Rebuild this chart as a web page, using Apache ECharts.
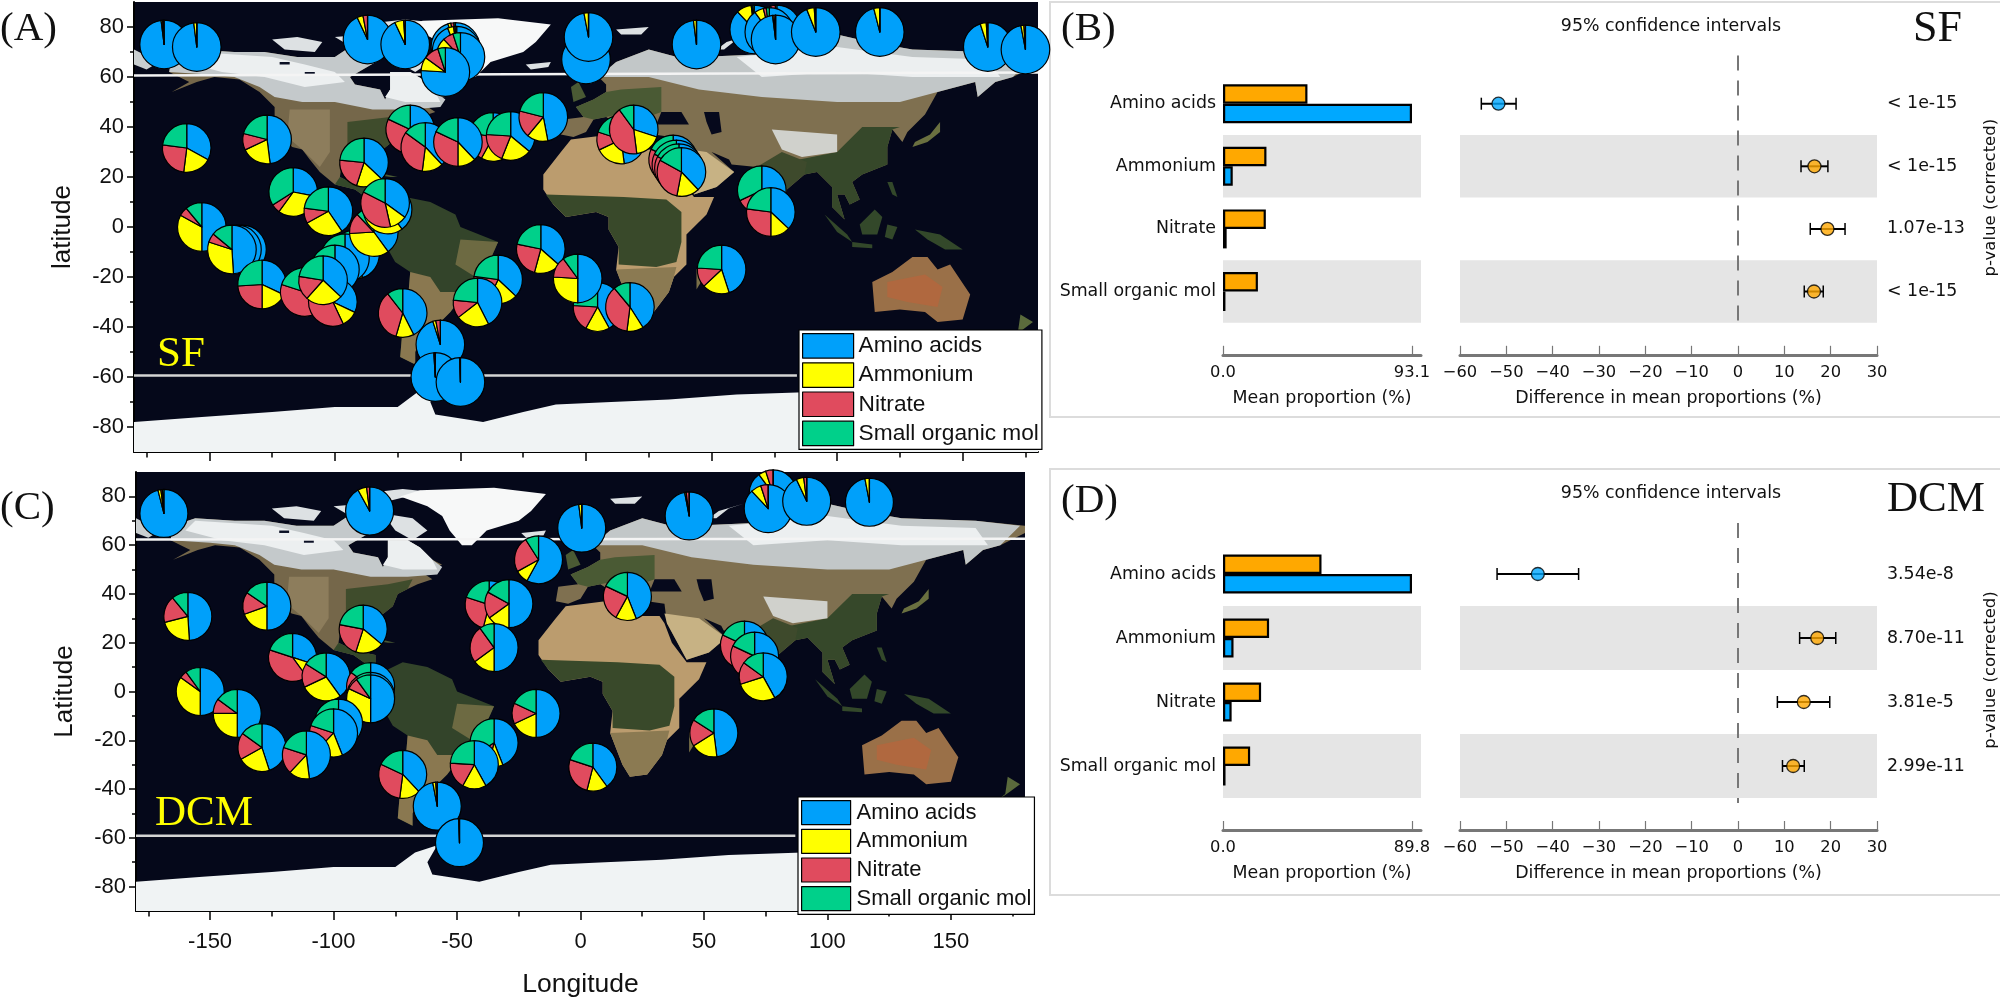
<!DOCTYPE html>
<html><head><meta charset="utf-8">
<script src="https://cdn.jsdelivr.net/npm/echarts@6/dist/echarts.min.js"></script>
<style>html,body{margin:0;padding:0;background:#fff}#c{width:2000px;height:999px}</style></head>
<body><div id="c"></div>
<script>
const nutrientNames = ['Amino acids','Ammonium','Nitrate','Small organic mol'];
const nutrientColors = ['#00a0fa','#ffff00','#e04b5e','#00d08a'];
// lon, lat, amino, ammonium, nitrate, small organic
const sfStations = [
[-168,73,98,1,.5,.5],[-155,72,98,2,0,0],[-87,75,93,4,3,0],[-72,73,93,6,1,0],
[-52,72,95,2,2,1],[-51.5,70.5,94,4,1,1],[-50,68,78,10,7,5],[-56,62,76,9,10,5],
[0,67,99,.5,.5,0],[1,76,97,3,0,0],[44,73,98,2,0,0],[67,79,88,10,1,1],[76,79,88,8,3,1],[73,78,90,6,2,2],[75.5,75,98,1,1,0],[91.5,78,94,5,1,0],[117,78,96,4,0,0],[160,72,95,4,1,0],[175,71,97,2,1,0],
[-159,31.6,33,19,25,23],[-127,35,48,20,11,21],[-70,39,35,10,37,18],[-64,32,38,14,33,15],[-88.4,25.8,37,18,21.5,23.5],[-37,36,38,20,20,22],[-51,34,38,12,32,18],[-30,36.4,36,20,20,24],[-17,44,47,14,18,21],
[14,35,48,20,12,20],[19,39,30,18,42,10],[34.7,27,40,14,28,18],[36,25,40,14,28,18],[37,23.5,38,15,30,17],[38,22,38,15,30,17],[70,14.7,36,10,22,32],[73.6,6,37,13,27,23],
[-116.6,14,28,32,6,34],[-102.6,6.3,40.5,26.5,10,23],[-153,0,50,33,6,11],[-137,-9,49,31,6,14],[-139,-9,49,31,6,14],[-141,-9,49,31,6,14],
[-129,-23,32,18,24,26],[-92,-11,45,20,15,20],[-96,-12.5,45,20,15,20],[-100,-17,45,18,17,20],[-112,-26,28,14,38,20],[-100.8,-30,32,11,40,17],[-104.7,-21.3,37,24.6,16,22.4],
[-84.5,-2,40,34,14,12],[-79,7,40,30,20,10],[-80,9.6,35,11.5,36,17.5],
[-18,-8.8,36.5,17.7,24,21.8],[-35,-21,37,20,20,23],[-43.2,-30.2,42.5,22,12,23.5],[-73,-34.4,42.5,12,35,10.5],[4.6,-32,42,16,18,24],[-3.3,-20.6,50,26,14,10],[17.5,-32,41,11,37,11],[54,-17,45,18,13,24],
[-58,-47,95,2,3,0],[-60,-60,99,.5,.5,0],[-50,-62,99.5,.25,.25,0]];
const dcmStations = [
[-168.7,73,96,2,1,1],[-85.4,74,92,6,2,0],[.5,67,98,2,0,0],[44,72,97,1,2,0],[78,81,90,5,5,0],[76,75,88,7,5,0],[91.6,78,93,5,2,0],[117,77.6,97,3,0,0],
[-17,54,58,9,24,9],[19,39,44,14,24,18],[66.4,19,38,18,26,18],[70.5,14.5,38,24,20,18],[74,6,42,28,15,15],
[-159,30.8,49,22,18,11],[-127,35,50,19.5,15,15.5],[-88,25.6,36,19,23,22],[-37,35.6,38,16,26,20],[-29,36,50,15,18,17],[-35,18,50,15,25,10],[-116.6,14,30,10,40,20],[-103,6,40,28,16,16],
[-85,2,45,20,20,15],[-85,-2,50,32,8,10],[-85,-3,50,32,8,10],[-154,0,50,35,5,10],[-139,-9,50,25,10,15],[-129,-23,45,22,18,15],[-98,-13,45,18,17,20],[-100,-17,44,18,18,20],[-111,-26,48,14,18,20],
[-72,-34,38,14,30,18],[-35,-21,44,10,12,34],[-43,-30,42,16,18,24],[-18,-9,50,18,14,18],[5,-31,40,14,26,20],[54,-17,48,18,18,16],[-58,-47,97,2,1,0],[-49,-62,99.5,.25,.25,0]];

const rowNames = ['Amino acids','Ammonium','Nitrate','Small organic mol'];
const sfMeanOther = [41.6,21.4,21.1,17.2];
const sfMeanMain = [93.1,4.8,1.8,1.2];
const dcmMeanOther = [46.8,21.9,18.1,12.9];
const dcmMeanMain = [89.8,5.0,4.1,1.2];
const sfDiff = [[-55.4,-51.7,-47.9],[13.6,16.5,19.4],[15.6,19.3,23.1],[14.3,16.4,18.4]];
const dcmDiff = [[-52,-43.2,-34.4],[13.3,17.1,21.1],[8.5,14.2,19.8],[9.6,11.9,14.3]];
const sfP = ['< 1e-15','< 1e-15','1.07e-13','< 1e-15'];
const dcmP = ['3.54e-8','8.70e-11','3.81e-5','2.99e-11'];
const lonTicks = [-150,-100,-50,0,50,100,150];
const lonMinor = [-175,-125,-75,-25,25,75,125,175];
const latTicks = [-80,-60,-40,-20,0,20,40,60,80];
const latMinor = [-70,-50,-30,-10,10,30,50,70];
const diffTicks = [-60,-50,-40,-30,-20,-10,0,10,20,30];

// decorative base map outlines: colour + lon/lat ring
const landRings = [
['#75674a',[[-166,62],[-165,68],[-156,71],[-140,70],[-128,70],[-115,68],[-100,68],[-94,72],[-85,69],[-82,67],[-94,60],[-92,57],[-82,55],[-80,51],[-78,55],[-78,62],[-70,62],[-65,59],[-60,54],[-56,52],[-66,50],[-60,46],[-66,44],[-70,42],[-74,40],[-76,35],[-81,31],[-80,25],[-83,29],[-90,30],[-97,27],[-98,20],[-94,18],[-90,21],[-87,21],[-88,16],[-83,15],[-83,10],[-78,9],[-80,7],[-85,10],[-92,15],[-100,17],[-106,22],[-110,27],[-113,31],[-117,32],[-122,37],[-124,42],[-124,48],[-130,54],[-138,59],[-148,60],[-155,58],[-165,54],[-158,58]]],
['#3f4c2c',[[-95,42],[-78,44],[-68,46],[-70,42],[-74,40],[-76,35],[-81,31],[-83,29],[-90,30],[-95,30]]],
['#8d7d5c',[[-118,47],[-102,47],[-102,30],[-106,24],[-113,31],[-119,36]]],
['#34482a',[[-98,20],[-94,18],[-90,21],[-87,21],[-88,16],[-83,15],[-83,10],[-78,9],[-80,7],[-85,10],[-92,15],[-100,17]]],
['#c4c9cb',[[-166,62],[-165,68],[-156,71],[-140,70],[-128,70],[-115,68],[-100,68],[-94,72],[-85,69],[-82,67],[-94,60],[-92,57],[-82,55],[-80,51],[-78,55],[-78,62],[-70,62],[-65,59],[-60,54],[-56,51],[-58,48],[-70,47],[-85,47],[-100,50],[-113,50],[-124,52],[-130,56],[-140,60],[-150,61]]],
['#eceff0',[[-160,66],[-156,70],[-140,69],[-125,68],[-112,65],[-100,62],[-96,58],[-112,56],[-128,60],[-145,62]]],
['#eceff0',[[-78,62],[-70,62],[-65,59],[-60,54],[-58,50],[-72,50],[-80,52],[-78,55]]],
['#0a0f24',[[-122,66],[-118,66],[-118,65],[-122,65]]],['#0a0f24',[[-112,62],[-108,62],[-108,61],[-112,61]]],
['#dde1e3',[[-125,75],[-115,76],[-105,74],[-108,70],[-120,71]]],['#dde1e3',[[-100,76],[-88,77],[-82,74],[-95,73]]],['#dde1e3',[[-90,81],[-72,83],[-62,82],[-78,78]]],['#dde1e3',[[-80,73],[-68,71],[-62,66],[-68,62],[-75,66]]],
['#f7f8f8',[[-73,80],[-65,82.5],[-35,83.5],[-14,81],[-20,74],[-25,70],[-38,66],[-44,60],[-48,60],[-53,66],[-56,72],[-62,76]]],
['#dde1e3',[[-24,65],[-14,66],[-15,64],[-22,63]]],['#dde1e3',[[12,79],[25,80],[22,77],[14,77]]],['#dde1e3',[[52,71],[56,74],[66,77],[60,75],[55,71]]],
['#c9ced0',[[-180,71],[-170,66],[-175,63],[-180,65]]],
['#33442a',[[-78,9],[-72,12],[-62,10],[-52,5],[-50,0],[-35,-6],[-39,-15],[-41,-22],[-48,-26],[-54,-34],[-58,-38],[-65,-42],[-68,-50],[-68,-55],[-74,-52],[-73,-40],[-71,-30],[-70,-18],[-76,-14],[-81,-5],[-80,1],[-77,7]]],
['#8a7850',[[-48,-26],[-54,-34],[-58,-38],[-65,-42],[-68,-50],[-68,-55],[-74,-52],[-73,-40],[-71,-30],[-70,-18],[-62,-20],[-58,-26]]],
['#6d6a42',[[-50,-5],[-35,-6],[-39,-15],[-44,-20],[-52,-15]]],
['#bb9c6e',[[-17,15],[-17,21],[-10,30],[-6,35],[10,37],[11,33],[20,31],[32,31],[34,28],[37,20],[43,12],[51,12],[48,5],[40,-3],[40,-15],[35,-20],[33,-26],[27,-34],[20,-35],[17,-30],[12,-17],[13,-8],[9,-1],[9,4],[4,6],[-8,4],[-13,9]]],
['#39492a',[[-16,13],[15,12],[32,11],[38,6],[38,-6],[36,-14],[28,-16],[13,-15],[13,-8],[9,-1],[9,4],[4,6],[-8,4],[-13,9]]],
['#8b7a52',[[12,-17],[36,-16],[35,-20],[33,-26],[27,-34],[20,-35],[17,-30]]],
['#7f7050',[[-10,37],[-9,43],[-1,44],[-4,48],[3,51],[8,54],[8,57],[5,60],[12,66],[25,71],[40,67],[45,68],[68,69],[75,72],[100,77],[113,74],[130,71],[160,70],[180,68],[180,65],[170,60],[163,58],[156,52],[155,58],[140,54],[135,45],[128,38],[126,34],[122,39],[120,32],[120,25],[110,21],[106,18],[109,11],[105,9],[103,13],[100,13],[103,3],[98,8],[98,16],[92,22],[87,21],[80,15],[78,8],[73,18],[68,24],[58,25],[57,27],[50,30],[59,22],[52,16],[43,13],[35,28],[34,36],[27,37],[26,40],[22,37],[19,42],[13,45],[16,39],[8,44],[3,43],[0,38],[-5,36]]],
['#4a5a34',[[-4,48],[3,51],[8,54],[14,55],[30,56],[30,46],[19,42],[13,45],[8,44],[3,43],[-1,44]]],
['#c7b284',[[34,32],[48,30],[59,22],[52,16],[43,13],[35,28]]],
['#36482a',[[110,40],[125,40],[122,39],[120,32],[120,25],[110,21],[106,18],[109,11],[105,9],[103,13],[100,13],[103,3],[98,8],[98,16],[92,22],[87,21],[85,27],[100,30]]],
['#3e4a2c',[[68,24],[73,18],[78,8],[80,15],[87,21],[88,26],[78,30]]],
['#d0d1cc',[[74,39],[100,37],[100,30],[86,28],[78,31]]],
['#c2c7c8',[[5,60],[12,66],[25,71],[40,67],[45,68],[68,69],[75,72],[100,77],[113,74],[130,71],[160,70],[178,68],[170,60],[163,58],[156,52],[155,58],[140,54],[125,50],[100,50],[70,52],[45,55],[25,60]]],
['#eceff0',[[60,68],[100,72],[130,68],[160,67],[165,60],[130,60],[100,62],[70,60]]],
['#06091c',[[47,46],[53,46],[54,38],[50,37],[48,42]]],['#06091c',[[28,41],[41,41],[38,46],[30,46]]],
['#4a5a34',[[-5,50],[0,52],[-3,58],[-6,56]]],['#6a7040',[[130,32],[136,34],[141,38],[141,42],[137,37],[131,34]]],
['#33482a',[[95,5],[104,-3],[106,-6],[100,-2]]],['#33482a',[[109,1],[115,7],[118,4],[116,-3],[110,-3]]],['#33482a',[[106,-6],[114,-7],[114,-8.5],[106,-8]]],['#33482a',[[120,1],[124,0],[122,-5],[119,-4]]],['#33482a',[[131,-1],[141,-3],[150,-9],[143,-9],[136,-5]]],['#33482a',[[120,18],[122,18],[124,12],[122,13]]],
['#7a7048',[[44,-25],[50,-15],[49,-12],[44,-17]]],['#4a5a34',[[-84,22],[-75,20],[-78,20],[-84,21]]],['#5a6a3c',[[167,-46],[174,-41],[178,-38],[173,-35],[172,-42]]],
['#9a7048',[[114,-22],[122,-18],[130,-12],[136,-12],[140,-17],[145,-15],[153,-27],[150,-37],[140,-38],[135,-34],[125,-33],[115,-34]]],
['#b0683f',[[120,-22],[135,-19],[142,-24],[140,-32],[128,-30],[120,-28]]],
['#f0f3f4',[[-180,-78],[-153,-76],[-125,-74],[-100,-72],[-75,-72],[-67,-66],[-58,-63],[-62,-70],[-60,-75],[-41,-78],[-25,-74],[-12,-71],[10,-70],[33,-69],[60,-67],[90,-66],[120,-66],[150,-68],[170,-72],[180,-78],[180,-90],[-180,-90]]]
];

function landSeries(xi, yi) {
  return { type:'custom', name:'base map', xAxisIndex:xi, yAxisIndex:yi, z:1, silent:true, clip:true, animation:false,
    data: landRings.map((r,i)=>[i]), encode:{x:[],y:[]},
    renderItem:(p,api)=>{
      const r = landRings[api.value(0)];
      return {type:'polygon', shape:{points:r[1].map(q=>api.coord(q))}, style:{fill:r[0]}};
    }};
}
function latLine(xi, yi, from, to, y0, y1, col) {
  return {type:'line', xAxisIndex:xi, yAxisIndex:yi, z:3, silent:true, symbol:'none', animation:false,
    lineStyle:{color:col,width:2.5}, data:[[from,y0],[to,y1]]};
}
const chart = echarts.init(document.getElementById('c'),null,{renderer:'canvas'});
const tickGrey = '#777';
const mapFont = 'Liberation Sans';
function mapX(g, show, name) { return [
  {type:'value', gridIndex:g, min:-180, max:180, position:'bottom', splitLine:{show:false}, name:name||'', nameLocation:'middle', nameGap:60, nameTextStyle:{fontFamily:mapFont,fontSize:26.5,color:'#111'},
   axisLine:{show:true,onZero:false,lineStyle:{color:'#000',width:2}}, axisTick:{show:true,length:9,customValues:lonTicks,lineStyle:{color:'#000',width:1.5}},
   axisLabel:{show:show,customValues:lonTicks,margin:20,fontFamily:mapFont,fontSize:22,color:'#111'}},
  {type:'value', gridIndex:g, min:-180, max:180, position:'bottom', splitLine:{show:false}, axisLine:{show:false,onZero:false}, axisTick:{show:true,length:5.5,customValues:lonMinor,lineStyle:{color:'#000',width:1.5}}, axisLabel:{show:false}}
];}
function mapY(g, name) { return [
  {type:'value', gridIndex:g, min:-90, max:90, position:'left', splitLine:{show:false}, name:name, nameLocation:'middle', nameGap:58, nameRotate:90, nameTextStyle:{fontFamily:mapFont,fontSize:26,color:'#111'},
   axisLine:{show:true,onZero:false,lineStyle:{color:'#000',width:2}}, axisTick:{show:true,length:7,customValues:latTicks,lineStyle:{color:'#000',width:1.5}},
   axisLabel:{customValues:latTicks,margin:10,fontFamily:mapFont,fontSize:22,color:'#111'}},
  {type:'value', gridIndex:g, min:-90, max:90, position:'left', splitLine:{show:false}, axisLine:{show:false,onZero:false}, axisTick:{show:true,length:4,customValues:latMinor,lineStyle:{color:'#000',width:1.5}}, axisLabel:{show:false}}
];}
const statFont = 'DejaVu Sans';
const statSize = 17.4;
function bandAxis(g, labels) { return {type:'category', gridIndex:g, inverse:true, data:rowNames, axisLine:{show:false}, axisTick:{show:false},
  axisLabel:{show:labels,margin:7,fontFamily:statFont,fontSize:statSize,color:'#111'},
  splitLine:{show:false}, splitArea:{show:true,areaStyle:{color:['rgba(0,0,0,0)','#e5e5e5']}}}; }
function pAxis(g, vals) { return {type:'category', gridIndex:g, inverse:true, position:'right', data:vals, axisLine:{show:false}, axisTick:{show:false},
  axisLabel:{margin:10,fontFamily:statFont,fontSize:statSize,color:'#111'}, name:'p-value (corrected)', nameLocation:'middle', nameRotate:90, nameGap:105, nameTextStyle:{fontFamily:statFont,fontSize:16.5,color:'#111'},
  splitLine:{show:false}, splitArea:{show:false}}; }
function meanAxis(g, top) { return {type:'value', gridIndex:g, min:0, max:top*198/189, position:'bottom', offset:32, splitLine:{show:false}, name:'Mean proportion (%)', nameLocation:'middle', nameGap:35, nameTextStyle:{fontFamily:statFont,fontSize:statSize,color:'#111'},
  axisLine:{show:true,onZero:false,lineStyle:{color:tickGrey,width:3}}, axisTick:{show:true,inside:true,length:9,customValues:[0,top],lineStyle:{color:tickGrey,width:1.2}},
  axisLabel:{customValues:[0,top],margin:10,formatter:v=>v.toFixed(1),fontFamily:statFont,fontSize:16.3,color:'#111'}}; }
function diffAxis(g) { return {type:'value', gridIndex:g, min:-60, max:30, position:'bottom', offset:32, splitLine:{show:false}, name:'Difference in mean proportions (%)', nameLocation:'middle', nameGap:35, nameTextStyle:{fontFamily:statFont,fontSize:statSize,color:'#111'},
  axisLine:{show:true,onZero:false,lineStyle:{color:tickGrey,width:3}}, axisTick:{show:true,inside:true,length:9,customValues:diffTicks,lineStyle:{color:tickGrey,width:1.2}},
  axisLabel:{customValues:diffTicks,margin:10,formatter:v=>String(v).replace('-','\u2212'),fontFamily:statFont,fontSize:16.3,color:'#111'}}; }
function barPair(xi, yi, other, main) {
  const common = {type:'bar', xAxisIndex:xi, yAxisIndex:yi, barWidth:19.5, barGap:0, z:3, silent:true, animation:false};
  return [
    Object.assign({name:'other',data:other,itemStyle:{color:'#ffa800',borderColor:'#000',borderWidth:2.2}},common),
    Object.assign({name:'main',data:main,itemStyle:{color:'#00a8ff',borderColor:'#000',borderWidth:2.2}},common)
  ];
}
function diffSeries(xi, yi, rows, up, down) {
  return [
   {type:'custom', xAxisIndex:xi, yAxisIndex:yi, z:2, silent:true, animation:false, clip:false, data:[[0,0]],
    encode:{x:0,y:1},
    renderItem:(p,api)=>{ const a=api.coord([0,0]); const c=p.coordSys; return {type:'line',shape:{x1:a[0],y1:c.y-up,x2:a[0],y2:c.y+c.height+down},style:{stroke:'#777',lineWidth:2,lineDash:[15,10]}}; }},
   {type:'custom', xAxisIndex:xi, yAxisIndex:yi, z:4, silent:true, animation:false, data:rows.map((r,i)=>[r[0],r[2],i]),
    encode:{x:[0,1],y:2},
    renderItem:(p,api)=>{ const l=api.coord([api.value(0),api.value(2)]), h=api.coord([api.value(1),api.value(2)]), cap=6;
      return {type:'group',children:[
       {type:'line',shape:{x1:l[0],y1:l[1],x2:h[0],y2:h[1]},style:{stroke:'#000',lineWidth:2}},
       {type:'line',shape:{x1:l[0],y1:l[1]-cap,x2:l[0],y2:l[1]+cap},style:{stroke:'#000',lineWidth:1.5}},
       {type:'line',shape:{x1:h[0],y1:h[1]-cap,x2:h[0],y2:h[1]+cap},style:{stroke:'#000',lineWidth:1.5}}]}; }},
   {type:'scatter', xAxisIndex:xi, yAxisIndex:yi, z:5, silent:true, animation:false, symbolSize:13,
    data:rows.map((r,i)=>({value:[r[1],i],itemStyle:{color:r[1]<0?'#00a8ff':'#ffa800',borderColor:'#000',borderWidth:1.3}}))}
  ];
}
function legendFor(left, top, w, h, gap, fs, pad) { return {
  left:left, top:top, orient:'vertical', data:nutrientNames, selectedMode:false, icon:'rect', itemWidth:w, itemHeight:h, itemGap:gap, itemStyle:{borderColor:'#000',borderWidth:1.2},
  padding:[3,3,3,3], backgroundColor:'#fff', borderColor:'#000', borderWidth:1.2, z:20, textStyle:{fontFamily:mapFont,fontSize:fs,lineHeight:20,color:'#111',padding:[0,0,0,pad]}}; }
function txt(x,y,s,size,fam,col,align){ return {type:'text',x:x,y:y,z:30,style:{text:s,fontFamily:fam,fontSize:size,fill:col||'#111',align:align||'left',verticalAlign:'middle'}}; }
function frame(x,y,w,h){ return {type:'rect',shape:{x:x,y:y,width:w,height:h},z:-1,style:{fill:'#fff',stroke:'#dcdcdc',lineWidth:2}}; }
const serif='Liberation Serif';

const baseOption = {
  animation:false, backgroundColor:'#fff',
  color:nutrientColors,
  grid:[
    {left:134,top:2,width:904,height:450,show:true,backgroundColor:'#05081a',borderWidth:0},
    {left:136,top:472,width:889,height:445,show:true,backgroundColor:'#05081a',borderWidth:0},
    {left:1223,top:72.4,width:198,height:250.4},
    {left:1460,top:72.4,width:420,height:250.4},
    {left:1223,top:542,width:198,height:256},
    {left:1460,top:542,width:420,height:256}
  ],
  xAxis:[...mapX(0,false),...mapX(1,true,'Longitude'),meanAxis(2,93.1),diffAxis(3),meanAxis(4,89.8),diffAxis(5)],
  yAxis:[...mapY(0,'latitude'),...mapY(1,'Latitude'),bandAxis(2,true),bandAxis(3,false),pAxis(3,sfP),bandAxis(4,true),bandAxis(5,false),pAxis(5,dcmP)],
  legend:[legendFor(799,330,51,24.5,3.5,22.7,0),legendFor(798,797,49,24,3.5,22,1)],
  graphic:[
    frame(1050,2,960,415),frame(1050,469,960,426),
    txt(0,29,'(A)',41,serif),txt(0,508,'(C)',41,serif),txt(1061,29,'(B)',41,serif),txt(1061,501,'(D)',41,serif),
    txt(1913,29,'SF',44,serif),txt(1887,500,'DCM',43,serif),
    txt(157,355,'SF',43,serif,'#ffff00'),txt(155,814,'DCM',43,serif,'#ffff00'),
    txt(1671,26,'95% confidence intervals',statSize,statFont,'#111','center'),txt(1671,493,'95% confidence intervals',statSize,statFont,'#111','center')
  ],
  series:[
    landSeries(0,0),landSeries(2,2),
    latLine(0,0,-180,180,60.6,61.8,'#f4f4f4'),latLine(0,0,-180,84,-59.4,-59.4,'#d4d4d4'),
    latLine(2,2,-180,180,62.3,62.6,'#f4f4f4'),latLine(2,2,-180,87,-59.1,-59.1,'#d4d4d4'),
    ...barPair(4,4,sfMeanOther,sfMeanMain),...barPair(6,7,dcmMeanOther,dcmMeanMain),
    ...diffSeries(5,5,sfDiff,17,5),...diffSeries(7,8,dcmDiff,19,5)
  ]
};
chart.setOption(baseOption);
function piesFor(rows, grid, radius) {
  return rows.map(r=>{
    const c = chart.convertToPixel({gridIndex:grid},[r[0],r[1]]);
    return {type:'pie', center:c, radius:[0,radius], z:6, silent:true, animation:false, startAngle:90, clockwise:true,
      label:{show:false}, labelLine:{show:false}, itemStyle:{borderColor:'#000',borderWidth:1.2},
      data:nutrientNames.map((n,i)=>({name:n,value:r[i+2],itemStyle:{color:nutrientColors[i]}}))};
  });
}
const allSeries = baseOption.series.concat(piesFor(sfStations,0,24.3),piesFor(dcmStations,1,24));
chart.setOption({series:allSeries});
</script></body></html>
